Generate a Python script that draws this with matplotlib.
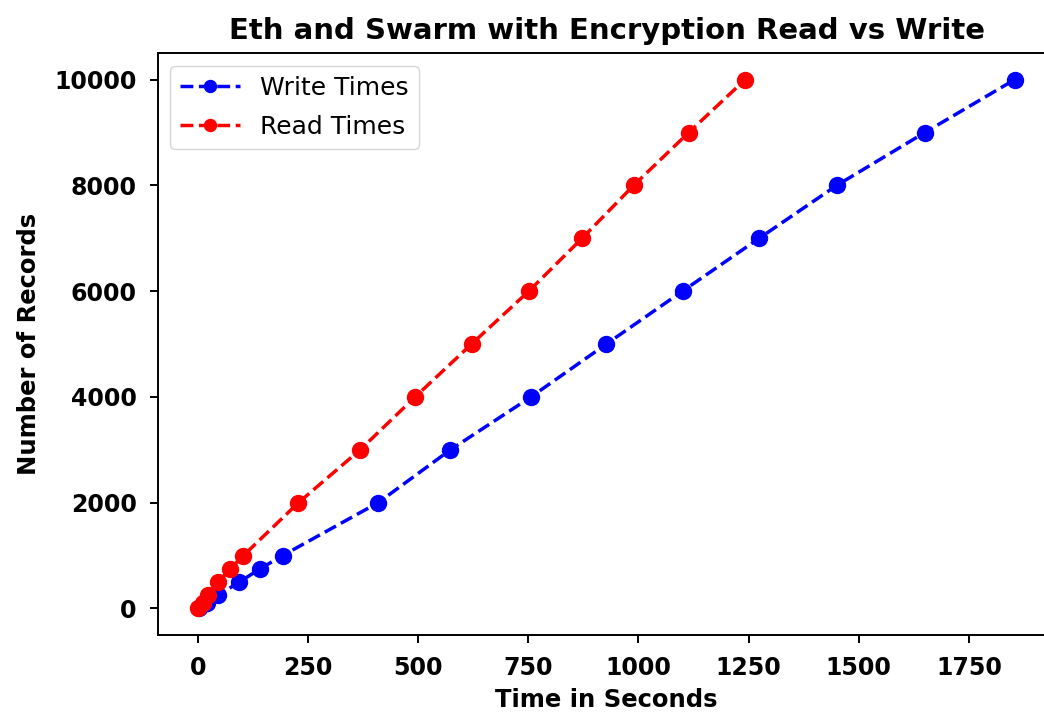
import numpy as np
import matplotlib
matplotlib.use('Agg')
import matplotlib.pyplot as plt

# Number of records for each measurement
records = [0, 100, 250, 500, 750, 1000, 2000, 3000, 4000, 5000, 6000, 7000, 8000, 9000, 10000]
# Time in seconds
write_times = [2, 20, 46, 94, 141, 192, 409, 573, 756, 927, 1100, 1274, 1450, 1650, 1854]
read_times = [1, 11, 23, 46, 73, 103, 228, 368, 493, 621, 751, 872, 989, 1114, 1242]

plt.rcParams['font.size'] = 17
fig = plt.figure(figsize=(10.44, 7.19), dpi=100)
ax = fig.add_axes([0.151, 0.117, 0.86, 0.809])

ax.plot(write_times, records, 'bo--', label='Write Times', markersize=11.5, linewidth=2.5)
ax.plot(read_times, records, 'ro--', label='Read Times', markersize=11.5, linewidth=2.5)

ax.set_xticks([0, 250, 500, 750, 1000, 1250, 1500, 1750])
ax.tick_params(length=6, width=1.4, pad=9, labelsize=17)
for lab in ax.get_xticklabels() + ax.get_yticklabels():
    lab.set_fontweight('bold')
for s in ax.spines.values():
    s.set_linewidth(1.4)
ax.set_title('Eth and Swarm with Encryption Read vs Write', fontsize=21, fontweight='bold', pad=10)
ax.set_xlabel('Time in Seconds', fontsize=17.5, fontweight='bold', labelpad=6)
ax.set_ylabel('Number of Records', fontsize=17.5, fontweight='bold', labelpad=10)
ax.legend(loc='upper left', fontsize=18, markerscale=0.75, handlelength=2.4, labelspacing=0.6)

fig.savefig('out.png', dpi=100)
